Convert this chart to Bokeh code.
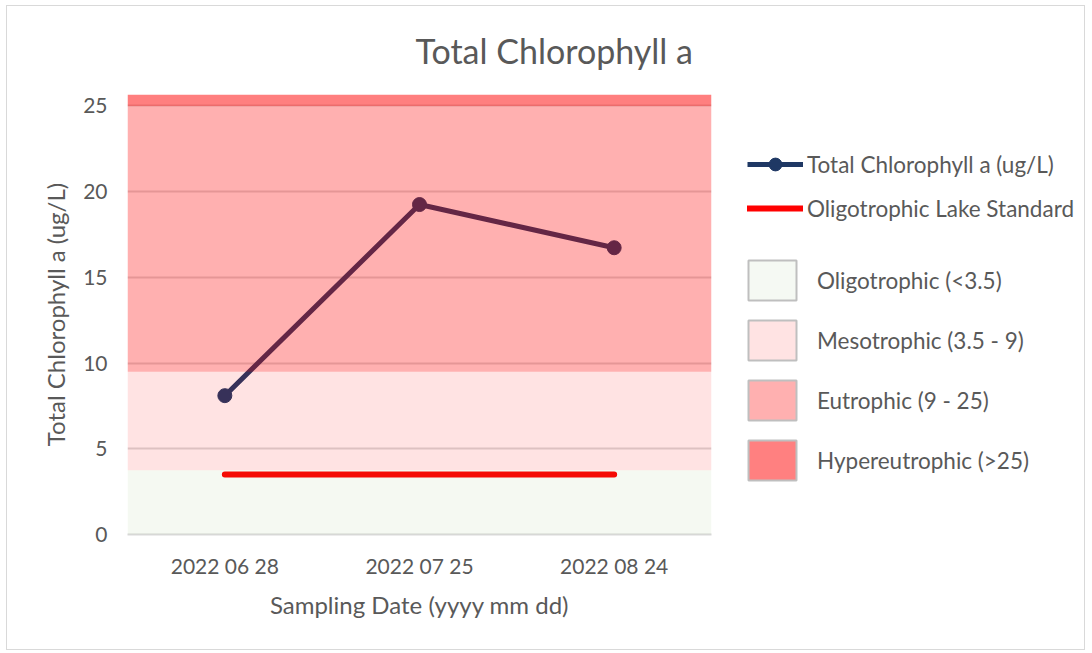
from bokeh.plotting import figure
from bokeh.layouts import row
from bokeh.models import (BoxAnnotation, Legend, LegendItem, FixedTicker, Range1d, FactorRange)
from bokeh.embed import file_html
from bokeh.resources import INLINE

NaN = float("nan")

# ---- data ----
dates = ["2022 06 28", "2022 07 25", "2022 08 24"]
chl = [8.1, 19.25, 16.73]
standard = [3.5, 3.5, 3.5]
band_names = ["Oligotrophic (<3.5)", "Mesotrophic (3.5 - 9)", "Eutrophic (9 - 25)", "Hypereutrophic (>25)"]
band_bottom = [0, 3.75, 9.5, 25]
band_top = [3.75, 9.5, 25, 25.67]
y_ticks = [0, 5, 10, 15, 20, 25]

# ---- styles ----
FONT = "Lato"
TXT = "#595959"
NAVY = "#1F3864"
RED = "#FF0000"
band_colors = ["#70AD47", "#FF0000", "#FF0000", "#FF0000"]
band_alphas = [0.07, 0.11, 0.31, 0.5]
band_legend_colors = ["#F5F9F3", "#FFE3E3", "#FFB0B0", "#FF8080"]

H = 643
p = figure(width=733, height=H, x_range=FactorRange(factors=dates, range_padding=0),
           y_range=Range1d(0, band_top[-1]), output_backend="svg", toolbar_location=None,
           min_border_left=120, min_border_right=29, min_border_top=88, min_border_bottom=115)
p.outline_line_color = None

p.title.text = "Total Chlorophyll a"
p.title.text_font = FONT
p.title.text_font_size = "34px"
p.title.text_font_style = "normal"
p.title.text_color = TXT
p.title.align = "left"
p.title.offset = 288
p.title.vertical_align = "top"
p.title.standoff = 44

# axes
p.yaxis.ticker = FixedTicker(ticks=y_ticks)
p.yaxis.axis_line_color = None
p.yaxis.major_tick_line_color = None
p.yaxis.minor_tick_line_color = None
p.yaxis.major_label_standoff = 14
p.yaxis.axis_label = "Total Chlorophyll a (ug/L)"
p.yaxis.axis_label_standoff = 10

p.xaxis.axis_line_color = "#D9D9D9"
p.xaxis.axis_line_width = 2
p.xaxis.major_tick_line_color = None
p.xaxis.minor_tick_line_color = None
p.xaxis.major_label_standoff = 12
p.xaxis.axis_label = "Sampling Date (yyyy mm dd)"
p.xaxis.axis_label_standoff = 9

for ax in (p.xaxis, p.yaxis):
    ax.major_label_text_font = FONT
    ax.major_label_text_font_size = "21px"
    ax.major_label_text_color = TXT
    ax.axis_label_text_font = FONT
    ax.axis_label_text_font_size = "24px"
    ax.axis_label_text_font_style = "normal"
    ax.axis_label_text_color = TXT

p.xgrid.grid_line_color = None
p.ygrid.grid_line_color = "#D9D9D9"
p.ygrid.grid_line_width = 2

# series
p.line(x=dates, y=chl, line_color=NAVY, line_width=5)
p.scatter(x=dates, y=chl, size=14, marker="circle", fill_color=NAVY, line_color=NAVY)
p.line(x=dates, y=standard, line_color=RED, line_width=6, line_cap="round")

# trophic bands (semi transparent overlays)
for b, t, c, a in zip(band_bottom, band_top, band_colors, band_alphas):
    p.add_layout(BoxAnnotation(bottom=b, top=t, fill_color=c, fill_alpha=a, line_color=None))

# ---- legend panel (frame aligned with the plot frame by the row layout) ----
q = figure(width=344, height=H, x_range=Range1d(0, 1), y_range=Range1d(0, 1),
           x_axis_type=None, y_axis_type=None, output_backend="svg", toolbar_location=None,
           min_border=0)
q.outline_line_color = None
q.grid.visible = False

l_line = q.line(x=[NaN], y=[NaN], line_color=NAVY, line_width=5)
l_pts = q.scatter(x=[NaN], y=[NaN], size=14, marker="circle", fill_color=NAVY, line_color=NAVY)
l_std = q.line(x=[NaN], y=[NaN], line_color=RED, line_width=6, line_cap="round")

leg1 = Legend(items=[LegendItem(label="Total Chlorophyll a (ug/L)", renderers=[l_line, l_pts]),
                     LegendItem(label="Oligotrophic Lake Standard", renderers=[l_std])],
              location=(7, 310), glyph_width=56, glyph_height=32, label_height=32,
              spacing=12, label_standoff=4, padding=0, margin=0,
              border_line_color=None, background_fill_alpha=0)

band_items = []
for name, c in zip(band_names, band_legend_colors):
    r = q.quad(left=[NaN], right=[NaN], top=[NaN], bottom=[NaN], fill_color=c,
               line_color="#BFBFBF", line_width=2)
    band_items.append(LegendItem(label=name, renderers=[r]))
leg2 = Legend(items=band_items, location=(2, 49), glyph_width=60, glyph_height=50, label_height=50,
              spacing=10, label_standoff=15, padding=0, margin=0,
              border_line_color=None, background_fill_alpha=0)

for lg in (leg1, leg2):
    lg.label_text_font = FONT
    lg.label_text_font_size = "22.5px"
    lg.label_text_color = TXT
    q.add_layout(lg)

layout = row(p, q)
layout.styles = {"border": "1px solid #D9D9D9", "margin-left": "6px", "margin-top": "5px"}

open("out.html", "w").write(file_html(layout, INLINE))
